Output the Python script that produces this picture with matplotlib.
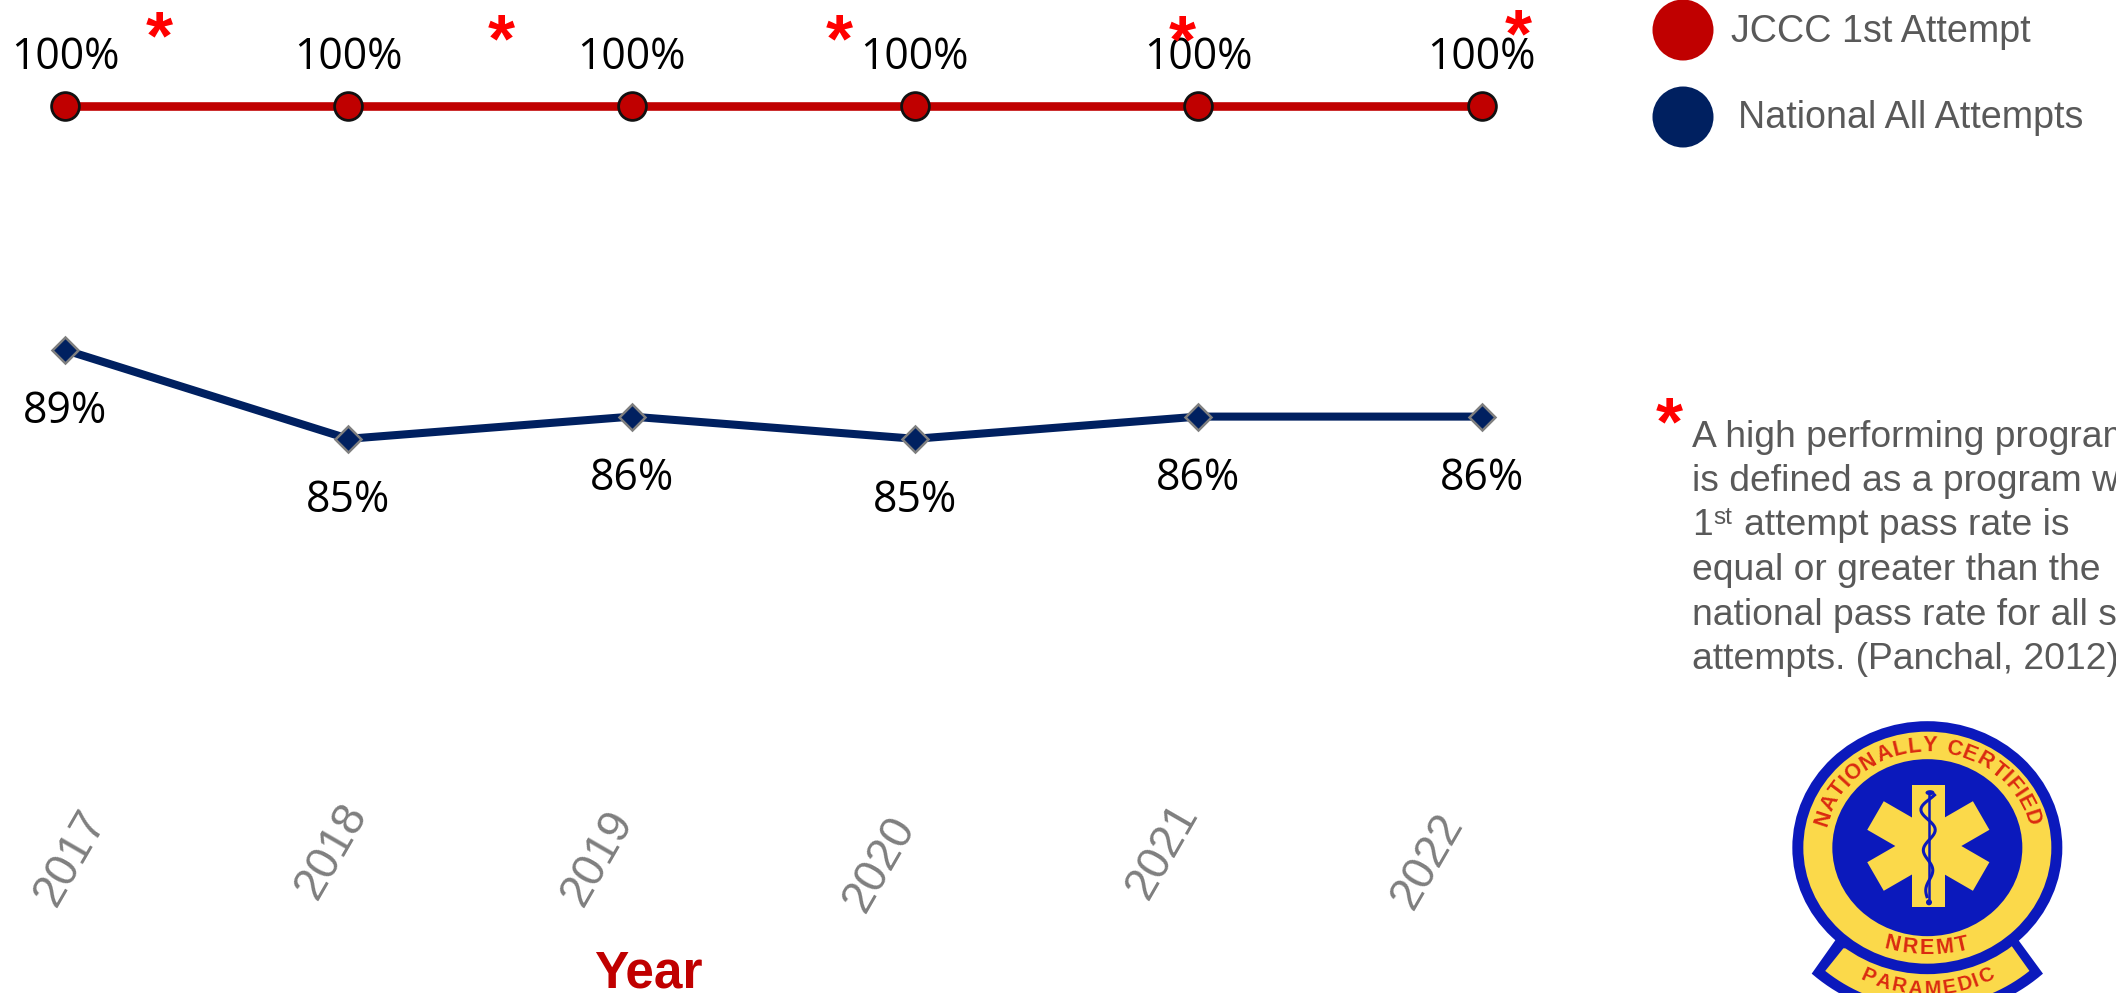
import numpy as np
import matplotlib
matplotlib.use("Agg")
import matplotlib.pyplot as plt
from matplotlib.patches import Circle, Ellipse, Polygon, Rectangle
from matplotlib.font_manager import FontProperties
from matplotlib.textpath import TextToPath
from matplotlib.transforms import Affine2D

# ---- data ----
years = ["2017", "2018", "2019", "2020", "2021", "2022"]
jccc_first = [100, 100, 100, 100, 100, 100]
national_all = [89, 85, 86, 85, 86, 86]
jccc_labels = ["100%", "100%", "100%", "100%", "100%", "100%"]
national_labels = ["89%", "85%", "86%", "85%", "86%", "86%"]
legend_names = ["JCCC 1st Attempt", "National All Attempts"]
note_lines = ["A high performing program", "is defined as a program w", None,
              "equal or greater than the", "national pass rate for all s",
              "attempts. (Panchal, 2012)"]

W, H = 2116, 993
RED, NAVY, GREY_TXT = "#C00000", "#002060", "#595959"
LAB = "Open Sans"
ARIAL = "Liberation Sans"

fig = plt.figure(figsize=(W / 100, H / 100), dpi=100, facecolor="white")
ax = fig.add_axes([0, 0, 1, 1])
ax.set_xlim(-65 / 283.3, (W - 65) / 283.3)
ax.set_ylim(100 - (H - 105.8) / 22.2, 100 + 105.8 / 22.2)
ax.axis("off")
xs = np.arange(len(years))

ax.plot(xs, jccc_first, color=RED, lw=6.2, marker="o", ms=20, mfc=RED, mec="#111111", mew=2.0,
        solid_capstyle="butt", zorder=3)
ax.plot(xs, national_all, color=NAVY, lw=5.8, marker="D", ms=13.2, mfc=NAVY, mec="#7F7F7F", mew=1.8,
        solid_capstyle="butt", zorder=3)

for x, v, s in zip(xs, jccc_first, jccc_labels):
    ax.annotate(s, (x, v), xytext=(0, 37), textcoords="offset pixels", ha="center", va="baseline",
                fontsize=30.8, family=LAB, color="black", zorder=2)
for x, v, s in zip(xs, national_all, national_labels):
    ax.annotate(s, (x, v), xytext=(0, -73), textcoords="offset pixels", ha="center", va="baseline",
                fontsize=30.8, family=LAB, color="black", zorder=4)

# rotated year labels sit a little off their points
year_dx = [6, -16, -34, -35, -35, -54]
year_cy = [858, 851, 858, 864, 851, 861]
for x, s, dx, cy in zip(xs, years, year_dx, year_cy):
    ax.annotate(s, (x, 0), xycoords=("data", "axes fraction"), xytext=(dx, H - cy), textcoords="offset pixels",
                ha="center", va="center", rotation=60, rotation_mode="anchor",
                fontsize=33, family=ARIAL, color="#7F7F7F")

# ---- overlay in pixel space ----
ov = fig.add_axes([0, 0, 1, 1], facecolor="none")
ov.set_xlim(0, W)
ov.set_ylim(H, 0)
ov.axis("off")

ov.text(648, 988, "Year", ha="center", va="baseline", fontsize=37, family=ARIAL, fontweight="bold", color=RED)

star_x = [159, 501, 839, 1182, 1518, 1669]
star_y = [58, 61, 61, 62, 56, 444]
for sx, sy in zip(star_x, star_y):
    ov.text(sx, sy, "*", ha="center", va="baseline", fontsize=50, family=ARIAL, fontweight="bold",
            color="#FF0000", zorder=6)

for cy, color, tx, ty, name in zip([30, 117], [RED, NAVY], [1731, 1738], [42, 128], legend_names):
    ov.add_patch(Circle((1683, cy), 30.5, fc=color, ec="none"))
    ov.text(tx, ty, name, ha="left", va="baseline", fontsize=27.1, family=ARIAL, color=GREY_TXT)

note_y = [447, 491, 535, 580, 625, 669]
for y, s in zip(note_y, note_lines):
    if s:
        ov.text(1692, y, s, ha="left", va="baseline", fontsize=26.8, family=ARIAL, color=GREY_TXT)
ov.text(1692, 535, "1", ha="left", va="baseline", fontsize=26.8, family=ARIAL, color=GREY_TXT)
ov.text(1713, 524, "st", ha="left", va="baseline", fontsize=17.5, family=ARIAL, color=GREY_TXT)
ov.text(1744, 535, "attempt pass rate is", ha="left", va="baseline", fontsize=26.8, family=ARIAL, color=GREY_TXT)

# ---- NREMT badge (drawn in crop coordinates scaled 3x) ----
BL, YL, RD = "#0B19BC", "#FBD94A", "#DA2A10"
def Z(x, y):
    return 1740 + x / 3, 700 + y / 3
def arc(cx, cy, rx, ry, a0, a1, n=40):
    t = np.radians(np.linspace(a0, a1, n))
    return [Z(cx + rx * np.sin(a), cy - ry * np.cos(a)) for a in t]

CX, CY = 562, 443
# ribbon
ov.add_patch(Polygon([Z(290, 715)] + arc(CX, 419, 531, 531, 220.8, 139.2) + [Z(835, 720)],
                     closed=True, fc=BL, ec="none", zorder=3))
ov.add_patch(Polygon([Z(310, 745)] + arc(CX, 429, 491, 491, 218.6, 141.4) + [Z(815, 738)],
                     closed=True, fc=YL, ec="none", zorder=3))
# roundel
cc = Z(CX, CY)
ov.add_patch(Ellipse(cc, 270, 253, fc=BL, ec="none", zorder=4))
ov.add_patch(Ellipse(cc, 248, 232, fc=YL, ec="none", zorder=4))
ov.add_patch(Ellipse(cc, 190, 177, fc=BL, ec="none", zorder=4))
# star of life
sc = Z(565, 438)
for ang in (0, 60, -60):
    tr = Affine2D().rotate_deg_around(sc[0], sc[1], ang) + ov.transData
    ov.add_patch(Rectangle((sc[0] - 16.5, sc[1] - 61), 33, 122, fc=YL, ec="none", zorder=5, transform=tr))
# staff + serpent
ov.plot(*zip(Z(566, 285), Z(566, 600)), color=BL, lw=1.8, zorder=6)
yy = np.linspace(285, 590, 60)
ss = 566 + (26 - 0.06 * (yy - 285)) * np.sin((yy - 285) / 305 * 2.5 * 2 * np.pi + 2.4)
ov.plot(*zip(*[Z(a, b) for a, b in zip(ss, yy)]), color=BL, lw=2.2, zorder=6)
ov.add_patch(Circle(Z(567, 607), 3, fc=BL, ec="none", zorder=6))
ov.add_patch(Ellipse(Z(570, 278), 9, 5, fc=BL, ec="none", zorder=6))

t2p = TextToPath()
def curved(s, a0, a1, rx, ry, flip=False, size=15):
    fp = FontProperties(family=ARIAL, weight="bold", size=size)
    w = np.array([t2p.get_text_width_height_descent(c, fp, False)[0] for c in s], float)
    mids = np.cumsum(w) - w / 2
    frac = (mids - mids[0]) / (mids[-1] - mids[0])
    for f, c in zip(frac, s):
        a = np.radians(a0 + (a1 - a0) * f)
        px, py = Z(CX + rx * np.sin(a), CY - ry * np.cos(a))
        rot = -np.degrees(np.arctan2(ry * np.sin(a), rx * np.cos(a))) + (180 if flip else 0)
        ov.text(px, py, c, ha="center", va="center", rotation=rot, rotation_mode="anchor",
                fontsize=size, family=ARIAL, fontweight="bold", color=RD, zorder=7)

curved("NATIONALLY CERTIFIED", -73, 73, 325, 305, size=15.5)
curved("NREMT", 196, 164, 380, 303, flip=True, size=15.5)
curved("PARAMEDIC", 204.6, 155.4, 425, 425, flip=True, size=14.5)

fig.savefig("out.png", dpi=100, facecolor="white")
